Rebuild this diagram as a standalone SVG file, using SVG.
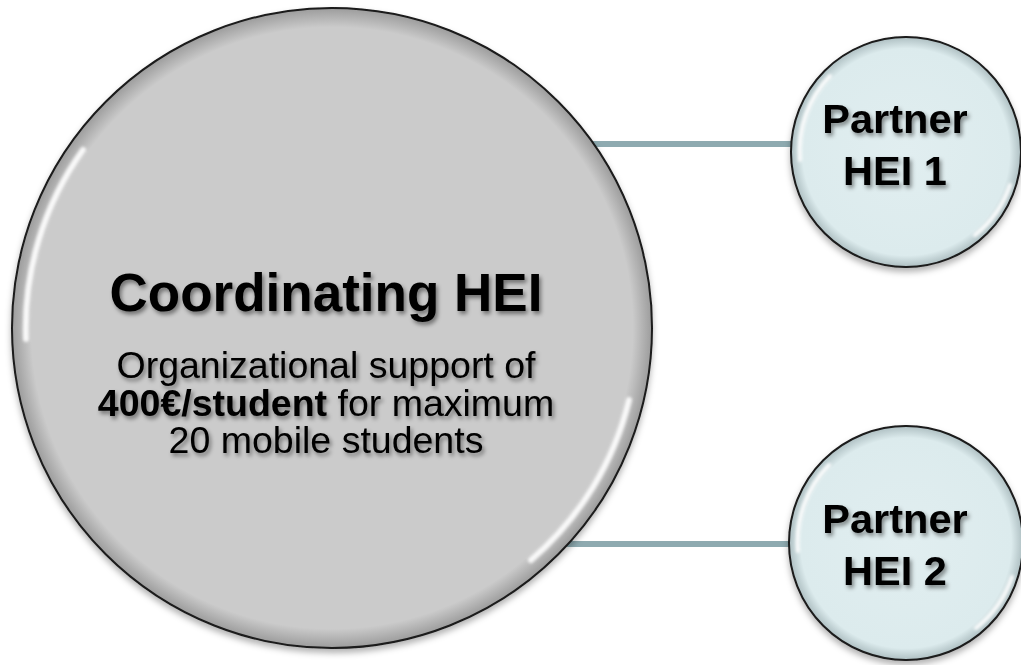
<svg xmlns="http://www.w3.org/2000/svg" width="1021" height="665" viewBox="0 0 1021 665">
  <defs>
    <radialGradient id="gBig" cx="50%" cy="50%" r="50%">
      <stop offset="0" stop-color="#cbcbcb"/>
      <stop offset="0.94" stop-color="#cbcbcb"/>
      <stop offset="1" stop-color="#9c9c9c"/>
    </radialGradient>
    <radialGradient id="gSmall" cx="50%" cy="50%" r="50%">
      <stop offset="0" stop-color="#e1eef0"/>
      <stop offset="0.9" stop-color="#dcebed"/>
      <stop offset="1" stop-color="#aebfc2"/>
    </radialGradient>
    <filter id="shadow" x="-10%" y="-10%" width="120%" height="125%">
      <feDropShadow dx="0" dy="4" stdDeviation="3" flood-color="#000" flood-opacity="0.3"/>
    </filter>
    <filter id="tshadow" x="-10%" y="-30%" width="120%" height="160%">
      <feDropShadow dx="2" dy="3" stdDeviation="2" flood-color="#000" flood-opacity="0.45"/>
    </filter>
    <filter id="soft" x="-20%" y="-20%" width="140%" height="140%">
      <feGaussianBlur stdDeviation="1.5"/>
    </filter>
  </defs>
  <style>
    .conn { stroke: #8eaab0; stroke-width: 6; fill: none; }
    .big { fill: url(#gBig); stroke: #1a1a1a; stroke-width: 2; filter: url(#shadow); }
    .small { fill: url(#gSmall); stroke: #1a1a1a; stroke-width: 2; filter: url(#shadow); }
    .hl { fill: none; stroke: #ffffff; stroke-width: 6; stroke-linecap: round; opacity: 0.9; filter: url(#soft); }
    .hls { fill: none; stroke: #ffffff; stroke-width: 4; stroke-linecap: round; opacity: 0.9; filter: url(#soft); }
    text { font-family: "Liberation Sans", Arial, sans-serif; fill: #000; text-anchor: middle; filter: url(#tshadow); }
    .title { font-size: 53px; font-weight: bold; }
    .sub { font-size: 37.5px; }
    .b { font-weight: bold; }
    .ptxt { font-size: 41.5px; font-weight: bold; }
  </style>
  <rect width="1021" height="665" fill="#ffffff"/>
  <g id="connectors">
    <line class="conn" x1="590" y1="144" x2="795" y2="144"/>
    <line class="conn" x1="565" y1="544" x2="795" y2="544"/>
  </g>
  <g id="coordinating">
    <circle class="big" cx="332" cy="328" r="320"/>
    <path class="hl" d="M26,339 A306,306 0 0 1 83,150"/>
    <path class="hl" d="M629,400 A306,306 0 0 1 531,560"/>
    <text class="title" x="326" y="311">Coordinating HEI</text>
    <text class="sub" x="326" y="378">Organizational support of</text>
    <text class="sub" x="326" y="416"><tspan class="b">400€/student</tspan> for maximum</text>
    <text class="sub" x="326" y="453">20 mobile students</text>
  </g>
  <g id="partner1">
    <circle class="small" cx="906" cy="152" r="115"/>
    <path class="hls" d="M800,160 A108,108 0 0 1 830,76"/>
    <path class="hls" d="M1010,185 A108,108 0 0 1 975,235"/>
    <text class="ptxt" x="895" y="133">Partner</text>
    <text class="ptxt" x="895" y="185">HEI 1</text>
  </g>
  <g id="partner2">
    <circle class="small" cx="906" cy="543" r="117"/>
    <path class="hls" d="M798,551 A110,110 0 0 1 829,465"/>
    <path class="hls" d="M1012,577 A110,110 0 0 1 976,628"/>
    <text class="ptxt" x="895" y="533">Partner</text>
    <text class="ptxt" x="895" y="585">HEI 2</text>
  </g>
</svg>
